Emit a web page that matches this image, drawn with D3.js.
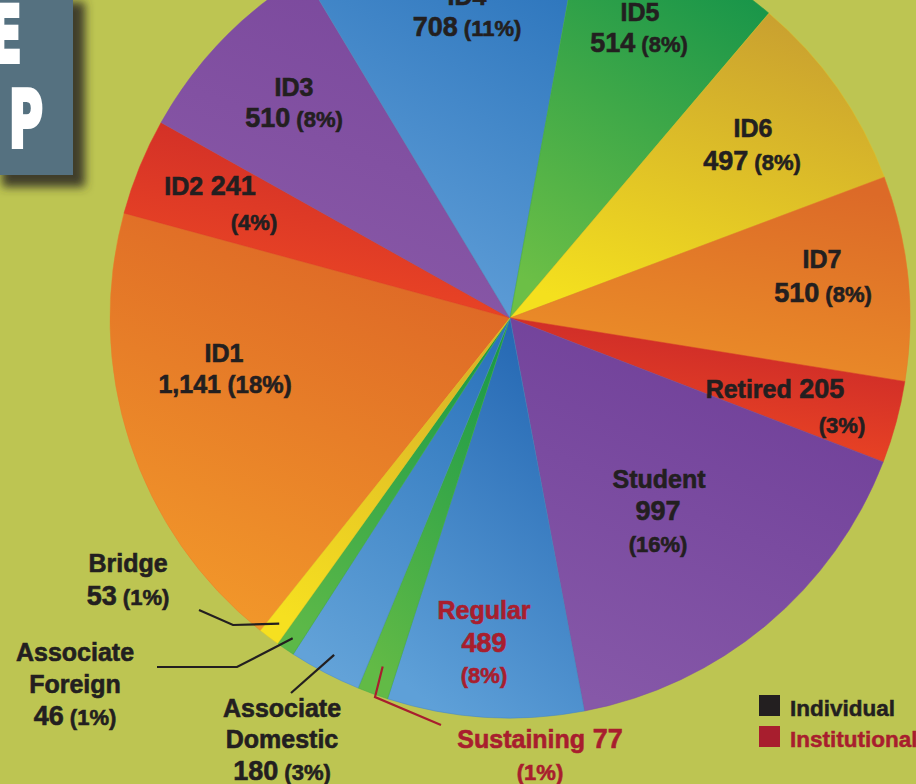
<!DOCTYPE html>
<html>
<head>
<meta charset="utf-8">
<script src="https://cdn.jsdelivr.net/npm/d3@7"></script>
<style>
  html, body { margin: 0; padding: 0; background: #bdc552; }
  svg { display: block; font-family: "Liberation Sans", Arial, sans-serif; font-weight: bold; }
</style>
</head>
<body>
<svg id="chart" width="916" height="784"></svg>
<script>
// membership counts, clockwise from ID1
const names = ["ID1", "ID2", "ID3", "ID4", "ID5", "ID6", "ID7", "Retired", "Student",
  "Regular", "Sustaining", "Associate Domestic", "Associate Foreign", "Bridge"];
const values = [1141, 241, 510, 708, 514, 497, 510, 205, 997, 489, 77, 180, 46, 53];
const groups = ["Individual", "Individual", "Individual", "Individual", "Individual", "Individual",
  "Individual", "Individual", "Individual", "Institutional", "Institutional",
  "Individual", "Individual", "Individual"];
const legendLabels = ["Individual", "Institutional"];

// slice shading (dark top -> light bottom)
const darkColors = ["#dc6426", "#cc2a28", "#7a489c", "#2a73bb", "#12924a", "#c9a030", "#dc6a28",
  "#c8262a", "#6e3e98", "#2366b2", "#1a9a48", "#2c74bc", "#1a9a48", "#d8b028"];
const lightColors = ["#f2982a", "#f04a24", "#8a5aa8", "#64a2da", "#6cbf46", "#f4e01e", "#ec9028",
  "#f04a22", "#8658a8", "#5ea0d8", "#62ba46", "#62a2d8", "#5cb848", "#f6e020"];
const groupColor = { Individual: "#231f20", Institutional: "#a81e2e" };

const svg = d3.select("#chart");
const cx = 510, cy = 318, radius = 400;
const startDeg = 218.6;

const data = names.map((n, i) => ({ name: n, value: values[i], group: groups[i], i: i }));
const total = d3.sum(values);
const fmt = d3.format(",");

const defs = svg.append("defs");
const shadow = defs.append("filter").attr("id", "shadow")
  .attr("x", "-50%").attr("y", "-50%").attr("width", "200%").attr("height", "200%");
shadow.append("feDropShadow").attr("dx", 12).attr("dy", 12).attr("stdDeviation", 5)
  .attr("flood-color", "#3a3826").attr("flood-opacity", 0.95);

data.forEach(d => {
  const g = defs.append("linearGradient").attr("id", "g" + d.i)
    .attr("x1", "70%").attr("y1", "0%").attr("x2", "30%").attr("y2", "100%");
  g.append("stop").attr("offset", "0%").attr("stop-color", darkColors[d.i]);
  g.append("stop").attr("offset", "100%").attr("stop-color", lightColors[d.i]);
});

// title box, cropped at the edge
const title = svg.append("g");
title.append("rect").attr("x", -10).attr("y", -10).attr("width", 83).attr("height", 185)
  .attr("fill", "#557180").attr("filter", "url(#shadow)");
[["E", 22, 62], ["P", 43, 147]].forEach(([t, x, y]) => {
  title.append("text")
    .attr("transform", `translate(${x},${y}) scale(0.6,1)`)
    .attr("text-anchor", "end")
    .style("font-family", "'DejaVu Sans', sans-serif")
    .style("font-size", "78px")
    .attr("fill", "white")
    .attr("stroke", "white").attr("stroke-width", 4).attr("stroke-linejoin", "miter")
    .text(t);
});

const pie = d3.pie().sort(null).value(d => d.value)
  .startAngle(startDeg * Math.PI / 180)
  .endAngle(startDeg * Math.PI / 180 + 2 * Math.PI);
const arcs = pie(data);
const arc = d3.arc().innerRadius(0).outerRadius(radius);

const g = svg.append("g").attr("transform", `translate(${cx},${cy})`);
g.selectAll("path")
  .data(arcs)
  .enter()
  .append("path")
  .attr("d", arc)
  .attr("fill", d => `url(#g${d.data.i})`)
  .attr("stroke", d => d3.interpolateRgb(darkColors[d.data.i], lightColors[d.data.i])(0.5))
  .attr("stroke-width", 0.5);

// label layout: lines of parts, absolute positions
const nameSize = 25, valueSize = 27, pctSize = 22;
const layout = {
  "ID1": [{ x: 224, y: 362, p: ["name"] }, { x: 225, y: 393, p: ["value", "pct"], vs: 25, ps: 24 }],
  "ID2": [{ x: 210, y: 195, p: ["name", "value"] }, { x: 254, y: 230, p: ["pct"] }],
  "ID3": [{ x: 294, y: 96, p: ["name"] }, { x: 294, y: 127, p: ["value", "pct"] }],
  "ID4": [{ x: 467, y: 5, p: ["name"] }, { x: 467, y: 36, p: ["value", "pct"] }],
  "ID5": [{ x: 640, y: 21, p: ["name"] }, { x: 639, y: 52, p: ["value", "pct"] }],
  "ID6": [{ x: 753, y: 137, p: ["name"] }, { x: 752, y: 170, p: ["value", "pct"] }],
  "ID7": [{ x: 822, y: 268, p: ["name"] }, { x: 823, y: 302, p: ["value", "pct"] }],
  "Retired": [{ x: 775, y: 398, p: ["name", "value"] }, { x: 842, y: 433, p: ["pct"] }],
  "Student": [{ x: 659, y: 488, p: ["name"] }, { x: 658, y: 520, p: ["value"] }, { x: 658, y: 552, p: ["pct"] }],
  "Regular": [{ x: 484, y: 619, p: ["name"] }, { x: 484, y: 652, p: ["value"] }, { x: 484, y: 683, p: ["pct"] }],
  "Sustaining": [{ x: 540, y: 748, p: ["name", "value"] }, { x: 540, y: 780, p: ["pct"] }],
  "Associate Domestic": [{ x: 282, y: 717, p: ["w0"] }, { x: 282, y: 748, p: ["w1"] }, { x: 282, y: 780, p: ["value", "pct"] }],
  "Associate Foreign": [{ x: 75, y: 661, p: ["w0"] }, { x: 75, y: 693, p: ["w1"] }, { x: 75, y: 725, p: ["value", "pct"] }],
  "Bridge": [{ x: 128, y: 572, p: ["name"] }, { x: 128, y: 605, p: ["value", "pct"] }]
};

// leader lines: outer points, inner end sits on the slice
const leaders = {
  "Bridge": { r: 383, pts: [[199, 610], [233, 625]] },
  "Associate Foreign": { r: 387, pts: [[157, 667], [237, 667]] },
  "Associate Domestic": { r: 380, pts: [[291, 693]] },
  "Sustaining": { r: 371, pts: [[441, 725], [375, 697]] }
};

arcs.forEach(a => {
  const d = a.data;
  const L = leaders[d.name];
  if (!L) return;
  const mid = (a.startAngle + a.endAngle) / 2;
  const inner = [cx + L.r * Math.sin(mid), cy - L.r * Math.cos(mid)];
  svg.append("path")
    .attr("d", d3.line()(L.pts.concat([inner])))
    .attr("fill", "none")
    .attr("stroke", d.group === "Institutional" ? "#a81e2e" : "#231f20")
    .attr("stroke-width", 2.2);
});

const labels = svg.append("g");
data.forEach(d => {
  const pct = Math.round(d.value / total * 100);
  const words = d.name.split(" ");
  layout[d.name].forEach(line => {
    const t = labels.append("text")
      .attr("x", line.x).attr("y", line.y)
      .attr("text-anchor", "middle")
      .attr("fill", groupColor[d.group])
      .attr("stroke", groupColor[d.group]).attr("stroke-width", 0.6);
    line.p.forEach((part, k) => {
      const sp = k > 0 ? " " : "";
      if (part === "name") t.append("tspan").style("font-size", nameSize + "px").text(sp + d.name);
      if (part === "w0") t.append("tspan").style("font-size", nameSize + "px").text(words[0]);
      if (part === "w1") t.append("tspan").style("font-size", nameSize + "px").text(words[1]);
      if (part === "value") t.append("tspan").style("font-size", (line.vs || valueSize) + "px").text(sp + fmt(d.value));
      if (part === "pct") t.append("tspan").style("font-size", (line.ps || pctSize) + "px").text(sp + "(" + pct + "%)");
    });
  });
});

// legend
const legend = svg.append("g").attr("transform", "translate(759,695)");
legendLabels.forEach((l, i) => {
  legend.append("rect").attr("x", 0).attr("y", i * 31).attr("width", 21).attr("height", 21)
    .attr("fill", groupColor[l]);
  legend.append("text").attr("x", 31).attr("y", i * 31 + 21)
    .style("font-size", "22.5px").attr("fill", groupColor[l])
    .attr("stroke", groupColor[l]).attr("stroke-width", 0.5).text(l);
});
</script>
</body>
</html>
